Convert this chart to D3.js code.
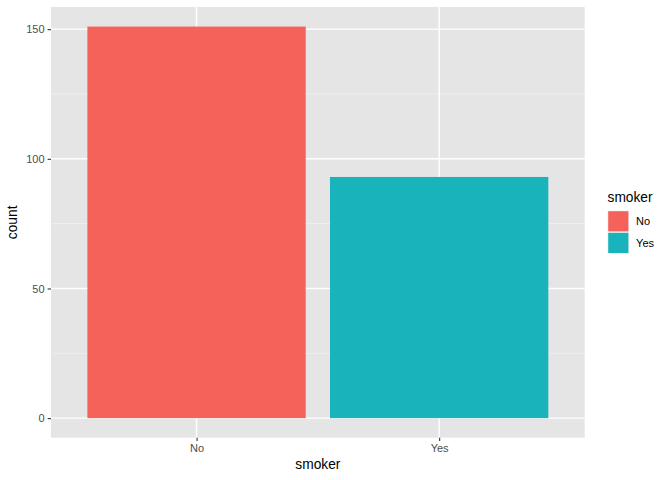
<!DOCTYPE html>
<html>
<head>
<meta charset="utf-8">
<script src="https://cdn.jsdelivr.net/npm/d3@7"></script>
<style>
  body { margin: 0; background: #fff; }
  text { font-family: "Liberation Sans", Arial, sans-serif; }
</style>
</head>
<body>
<svg id="chart" width="672" height="480"></svg>
<script>
const categories = ["No", "Yes"];
const counts = [151, 93];
const yTicks = [0, 50, 100, 150];
const yMinor = [25, 75, 125];
const barFill = ["#f5625a", "#19b4bb"];

const panel = { left: 51, top: 7, right: 584.7, bottom: 437.7 };

const svg = d3.select("#chart");

const yMax = d3.max(counts);
const y = d3.scaleLinear()
  .domain([-0.05 * yMax, yMax * 1.05])
  .range([panel.bottom, panel.top]);

// discrete x: positions 1..n with 0.6 expansion each side
const xc = d3.scaleLinear()
  .domain([0.4, categories.length + 0.6])
  .range([panel.left, panel.right]);

// panel background
svg.append("rect")
  .attr("x", panel.left).attr("y", panel.top)
  .attr("width", panel.right - panel.left)
  .attr("height", panel.bottom - panel.top)
  .attr("fill", "#e5e5e5");

// minor grid
svg.selectAll(".minor")
  .data(yMinor)
  .enter()
  .append("line")
  .attr("x1", panel.left).attr("x2", panel.right)
  .attr("y1", (d) => y(d)).attr("y2", (d) => y(d))
  .attr("stroke", "#f2f2f2").attr("stroke-width", 0.7);

// major grid
svg.selectAll(".majorY")
  .data(yTicks)
  .enter()
  .append("line")
  .attr("x1", panel.left).attr("x2", panel.right)
  .attr("y1", (d) => y(d)).attr("y2", (d) => y(d))
  .attr("stroke", "#fff").attr("stroke-width", 1.4);

svg.selectAll(".majorX")
  .data(categories)
  .enter()
  .append("line")
  .attr("x1", (d, i) => xc(i + 1)).attr("x2", (d, i) => xc(i + 1))
  .attr("y1", panel.top).attr("y2", panel.bottom)
  .attr("stroke", "#fff").attr("stroke-width", 1.4);

// bars
svg.selectAll(".bar")
  .data(counts)
  .enter()
  .append("rect")
  .attr("x", (d, i) => xc(i + 1 - 0.45))
  .attr("width", (d, i) => xc(i + 1.45) - xc(i + 0.55))
  .attr("y", (d) => y(d))
  .attr("height", (d) => y(0) - y(d))
  .attr("fill", (d, i) => barFill[i]);

// y axis
const yAxis = d3.axisLeft(y).tickValues(yTicks).tickSize(3.4).tickPadding(3);
const gy = svg.append("g")
  .attr("transform", `translate(${panel.left},0)`)
  .call(yAxis);
gy.select(".domain").remove();
gy.selectAll(".tick line").attr("stroke", "#333").attr("stroke-width", 1.1);
gy.selectAll(".tick text")
  .attr("fill", "#4d4d4d").style("font-size", "11px");

// x axis
const xb = d3.scaleOrdinal()
  .domain(categories)
  .range(categories.map((d, i) => xc(i + 1)));
const xAxis = d3.axisBottom(xb).tickSize(3.4).tickPadding(3);
const gx = svg.append("g")
  .attr("transform", `translate(0,${panel.bottom})`)
  .call(xAxis);
gx.select(".domain").remove();
gx.selectAll(".tick line").attr("stroke", "#333").attr("stroke-width", 1.1);
gx.selectAll(".tick text")
  .attr("fill", "#4d4d4d").style("font-size", "11px");

// axis titles
svg.append("text")
  .attr("x", (panel.left + panel.right) / 2)
  .attr("y", 469)
  .attr("text-anchor", "middle")
  .style("font-size", "13.75px")
  .attr("fill", "#000")
  .text("smoker");

svg.append("text")
  .attr("transform", `translate(17,${(panel.top + panel.bottom) / 2}) rotate(-90)`)
  .attr("text-anchor", "middle")
  .style("font-size", "13.75px")
  .attr("fill", "#000")
  .text("count");

// legend
const lg = svg.append("g").attr("transform", "translate(607.5,0)");
lg.append("text")
  .attr("x", 0).attr("y", 202)
  .style("font-size", "13.75px")
  .text("smoker");

const key = 21.6;
const keyTop = 210.5;
lg.selectAll(".keybg")
  .data(categories)
  .enter()
  .append("rect")
  .attr("x", 0)
  .attr("y", (d, i) => keyTop + i * key)
  .attr("width", key).attr("height", key)
  .attr("fill", "#f2f2f2");
lg.selectAll(".key")
  .data(categories)
  .enter()
  .append("rect")
  .attr("x", 0.7)
  .attr("y", (d, i) => keyTop + i * key + 0.7)
  .attr("width", key - 1.4).attr("height", key - 1.4)
  .attr("fill", (d, i) => barFill[i]);
lg.selectAll(".lab")
  .data(categories)
  .enter()
  .append("text")
  .attr("x", key + 7)
  .attr("y", (d, i) => keyTop + i * key + key / 2)
  .attr("dy", "0.35em")
  .style("font-size", "11px")
  .attr("fill", "#000")
  .text((d) => d);
</script>
</body>
</html>
